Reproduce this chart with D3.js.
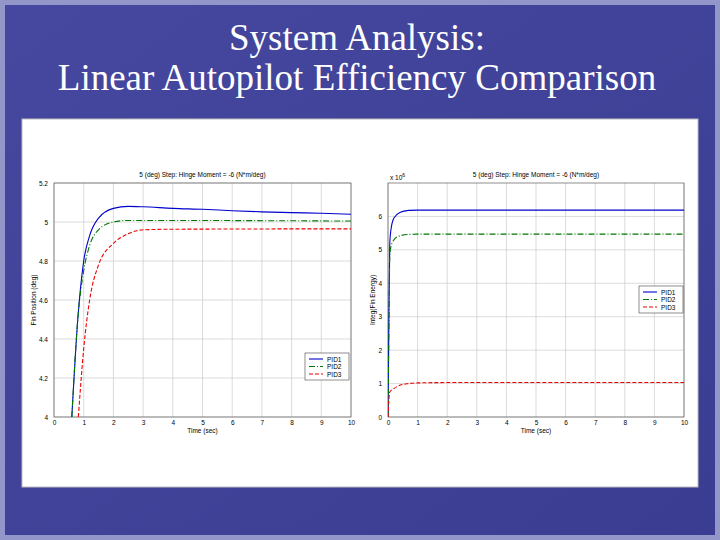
<!DOCTYPE html><html><head><script src="https://cdn.jsdelivr.net/npm/d3@7"></script>
<style>body{margin:0;}svg{display:block}</style></head><body><svg id="s" width="720" height="540"></svg>
<script>
const titleLines=["System Analysis:","Linear Autopilot Efficiency Comparison"];
const plotTitle="5 (deg) Step: Hinge Moment = -6 (N*m/deg)";
const seriesNames=["PID1","PID2","PID3"];
const colors=["#0000cc","#007700","#ee0000"];
const dashes=[null,"6,2,1,2","4,2"];
const leftT1=[0.6,0.8,1.0,1.2,1.5,2.0,2.5,3,4,5,6,7,8,9,10];
const leftPID1=[4.0,4.5,4.8,4.93,5.02,5.07,5.08,5.078,5.07,5.065,5.058,5.052,5.048,5.045,5.04];
const leftT2=[0.6,0.8,1.0,1.2,1.5,2,2.5,3,10];
const leftPID2=[4.0,4.5,4.75,4.88,4.96,5.0,5.008,5.008,5.005];
const leftT3=[0.82,1.0,1.2,1.5,2,2.5,3,4,10];
const leftPID3=[4.0,4.35,4.6,4.78,4.89,4.94,4.96,4.963,4.965];
const rightT=[0,0.03,0.06,0.1,0.2,0.4,0.7,1,10];
const rightPID1=[0,3,5.2,5.6,5.95,6.12,6.18,6.19,6.19];
const rightPID2=[0,2.5,4.8,5.1,5.3,5.42,5.46,5.47,5.47];
const rightT3=[0,0.03,0.06,0.2,0.4,0.7,1,2,10];
const rightPID3=[0,0.5,0.75,0.85,0.95,1.0,1.02,1.03,1.03];
const xTicks=d3.range(0,11);
const leftYTicks=[4,4.2,4.4,4.6,4.8,5,5.2];
const rightYTicks=[0,1,2,3,4,5,6];

const svg=d3.select("#s");
const defs=svg.append("defs");
const g=defs.append("linearGradient").attr("id","bg").attr("x1",0).attr("y1",0).attr("x2",1).attr("y2",1);
g.append("stop").attr("offset","0").attr("stop-color","#45489e");
g.append("stop").attr("offset","1").attr("stop-color","#3a3d92");
svg.append("rect").attr("width",720).attr("height",540).attr("fill","#9396c8");
svg.append("rect").attr("x",5).attr("y",5).attr("width",710).attr("height",530).attr("fill","url(#bg)");
titleLines.forEach((t,i)=>svg.append("text").attr("x",357).attr("y",50+i*40).attr("text-anchor","middle")
 .attr("font-family","Liberation Serif").attr("font-size",37).attr("fill","#fff").text(t));
svg.append("rect").attr("x",22).attr("y",119).attr("width",676).attr("height",368).attr("fill","#fff").attr("stroke","#bbb");

function plot(x0,x1,yTop,yBot,ydom,yticks,ylabel,ylx,data,legend,fmt){
 const x=d3.scaleLinear().domain([0,10]).range([x0,x1]);
 const y=d3.scaleLinear().domain(ydom).range([yBot,yTop]);
 const p=svg.append("g").attr("font-family","Liberation Sans").attr("font-size",6.5);
 xTicks.forEach(t=>p.append("line").attr("x1",x(t)).attr("x2",x(t)).attr("y1",yTop).attr("y2",yBot).attr("stroke","#ccc").attr("stroke-width",0.7));
 yticks.forEach(t=>p.append("line").attr("x1",x0).attr("x2",x1).attr("y1",y(t)).attr("y2",y(t)).attr("stroke","#ccc").attr("stroke-width",0.7));
 p.append("rect").attr("x",x0).attr("y",yTop).attr("width",x1-x0).attr("height",yBot-yTop).attr("fill","none").attr("stroke","#444").attr("stroke-width",0.6);
 p.append("g").attr("transform",`translate(0,${yBot})`).call(d3.axisBottom(x).tickValues(xTicks).tickSize(0).tickPadding(3)).call(a=>a.select(".domain").remove()).selectAll("text").attr("font-size",6.5);
 p.append("g").attr("transform",`translate(${x0},0)`).call(d3.axisLeft(y).tickValues(yticks).tickFormat(fmt).tickSize(0).tickPadding(6)).call(a=>a.select(".domain").remove()).selectAll("text").attr("font-size",6.5);
 p.append("text").attr("x",(x0+x1)/2).attr("y",yBot+16).attr("text-anchor","middle").text("Time (sec)");
 p.append("text").attr("x",(x0+x1)/2).attr("y",yTop-6).attr("text-anchor","middle").text(plotTitle);
 p.append("text").attr("transform",`translate(${ylx},${(yTop+yBot)/2}) rotate(-90)`).attr("text-anchor","middle").text(ylabel);
 const line=d3.line().x(d=>x(d[0])).y(d=>y(d[1])).curve(d3.curveMonotoneX);
 const clip="c"+x0;
 defs.append("clipPath").attr("id",clip).append("rect").attr("x",x0).attr("y",yTop).attr("width",x1-x0).attr("height",yBot-yTop);
 data.forEach((d,i)=>p.append("path").attr("d",line(d)).attr("fill","none").attr("stroke",colors[i]).attr("stroke-width",1.1).attr("stroke-dasharray",dashes[i]).attr("clip-path",`url(#${clip})`));
 const [lx,ly]=legend;
 p.append("rect").attr("x",lx).attr("y",ly).attr("width",44).attr("height",27).attr("fill","#fff").attr("stroke","#444").attr("stroke-width",0.6);
 seriesNames.forEach((n,i)=>{p.append("line").attr("x1",lx+4).attr("x2",lx+18).attr("y1",ly+6+i*7.5).attr("y2",ly+6+i*7.5).attr("stroke",colors[i]).attr("stroke-width",1.1).attr("stroke-dasharray",dashes[i]);
  p.append("text").attr("x",lx+22).attr("y",ly+8.5+i*7.5).text(n);});
 return p;
}
const z=(a,b)=>a.map((t,i)=>[t,b[i]]);
plot(54,351,183,417,[4,5.2],leftYTicks,"Fin Position (deg)",36,[z(leftT1,leftPID1),z(leftT2,leftPID2),z(leftT3,leftPID3)],[305,353],d3.format(".1~f"));
const pr=plot(388,684,183,417,[0,7],rightYTicks,"Integ(Fin Energy)",375,[z(rightT,rightPID1),z(rightT,rightPID2),z(rightT3,rightPID3)],[639,286],d3.format("d"));
pr.append("text").attr("x",390).attr("y",180).text("x 10").append("tspan").attr("dy",-3).attr("font-size",5).text("6");
</script></body></html>
